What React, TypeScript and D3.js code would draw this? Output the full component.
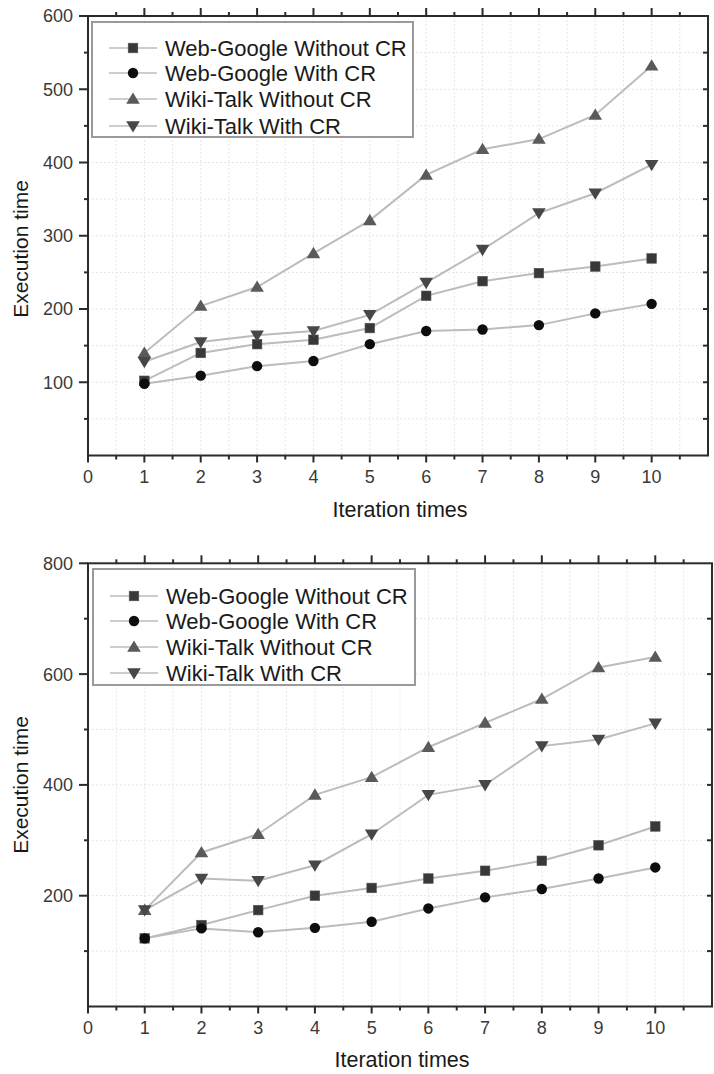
import React from "react";
import * as d3 from "d3";

const iterations = [1, 2, 3, 4, 5, 6, 7, 8, 9, 10];
const seriesNames = ["Web-Google Without CR", "Web-Google With CR", "Wiki-Talk Without CR", "Wiki-Talk With CR"];

// Top chart values
const topWebWithout = [102, 140, 152, 158, 174, 218, 238, 249, 258, 269];
const topWebWith = [98, 109, 122, 129, 152, 170, 172, 178, 194, 207];
const topWikiWithout = [140, 204, 230, 276, 321, 383, 418, 432, 465, 532];
const topWikiWith = [128, 155, 164, 170, 192, 236, 281, 331, 358, 397];

// Bottom chart values
const botWebWithout = [123, 147, 174, 200, 214, 231, 245, 263, 291, 325];
const botWebWith = [123, 141, 134, 142, 153, 177, 197, 212, 231, 251];
const botWikiWithout = [174, 278, 311, 382, 414, 468, 512, 555, 612, 631];
const botWikiWith = [174, 231, 227, 255, 311, 382, 400, 470, 482, 511];

const xTicks = [0, 1, 2, 3, 4, 5, 6, 7, 8, 9, 10];
const topYTicks = [100, 200, 300, 400, 500, 600];
const botYTicks = [200, 400, 600, 800];

const markerTypes = ["square", "circle", "up", "down"];
const markerColors = ["#383838", "#0d0d0d", "#5a5a5a", "#474747"];
const lineColor = "#bcbcbc";
const axisColor = "#2b2b2b";
const FONT = "'Liberation Sans', Arial, Helvetica, sans-serif";

function Marker({ type, x, y, color }: { type: string; x: number; y: number; color: string }) {
  if (type === "square") {
    return <rect x={x - 4.8} y={y - 4.8} width={9.6} height={9.6} fill={color} stroke="#555" strokeWidth={0.6} />;
  }
  if (type === "circle") {
    return <circle cx={x} cy={y} r={5.2} fill={color} />;
  }
  if (type === "up") {
    const p = `M${x},${y - 6.5} L${x + 6.8},${y + 4.8} L${x - 6.8},${y + 4.8} Z`;
    return <path d={p} fill={color} />;
  }
  const p = `M${x},${y + 6.5} L${x + 6.8},${y - 4.8} L${x - 6.8},${y - 4.8} Z`;
  return <path d={p} fill={color} />;
}

type ChartProps = {
  left: number;
  right: number;
  top: number;
  bottom: number;
  yMax: number;
  yTicks: number[];
  yMinorStep: number;
  series: number[][];
  legendBox: { x: number; y: number; w: number; h: number };
  legendRowY: number[];
  xLabelY: number;
  xTitleY: number;
  yTitleY: number;
};

function Chart(p: ChartProps) {
  const x = d3.scaleLinear().domain([0, 11]).range([p.left, p.right]);
  const y = d3.scaleLinear().domain([0, p.yMax]).range([p.bottom, p.top]);
  const xMinor = d3.range(0.5, 11, 0.5);
  const yMinor = d3.range(p.yMinorStep, p.yMax, p.yMinorStep);
  const line = d3
    .line<number>()
    .x((_, i) => x(iterations[i]))
    .y((d) => y(d));

  return (
    <g>
      {/* grid */}
      {xMinor.map((v) => (
        <line key={"gx" + v} x1={x(v)} x2={x(v)} y1={p.top} y2={p.bottom} stroke="#e6e6e6" strokeWidth={1} strokeDasharray="2,2" />
      ))}
      {yMinor.map((v) => (
        <line key={"gy" + v} x1={p.left} x2={p.right} y1={y(v)} y2={y(v)} stroke="#e6e6e6" strokeWidth={1} strokeDasharray="2,2" />
      ))}

      {/* series lines */}
      {p.series.map((s, i) => (
        <path key={"l" + i} d={line(s) || ""} fill="none" stroke={lineColor} strokeWidth={2} />
      ))}
      {p.series.map((s, i) =>
        s.map((v, j) => <Marker key={"m" + i + "-" + j} type={markerTypes[i]} x={x(iterations[j])} y={y(v)} color={markerColors[i]} />)
      )}

      {/* frame */}
      <rect x={p.left} y={p.top} width={p.right - p.left} height={p.bottom - p.top} fill="none" stroke={axisColor} strokeWidth={2} />

      {/* bottom axis ticks */}
      {xMinor.map((v) => {
        const major = Number.isInteger(v);
        return <line key={"bt" + v} x1={x(v)} x2={x(v)} y1={p.bottom} y2={p.bottom + (major ? 7 : 4)} stroke={axisColor} strokeWidth={2} />;
      })}
      <line x1={x(0)} x2={x(0)} y1={p.bottom} y2={p.bottom + 7} stroke={axisColor} strokeWidth={2} />
      {/* top axis ticks */}
      {xMinor.map((v) => {
        const major = Number.isInteger(v);
        return <line key={"tt" + v} x1={x(v)} x2={x(v)} y1={p.top} y2={p.top - (major ? 8 : 4)} stroke={axisColor} strokeWidth={2} />;
      })}
      {/* left axis ticks */}
      {yMinor.concat([p.yMax]).map((v) => {
        const major = p.yTicks.includes(v);
        return <line key={"lt" + v} x1={p.left} x2={p.left - (major ? 9 : 4)} y1={y(v)} y2={y(v)} stroke={axisColor} strokeWidth={2} />;
      })}
      {/* right axis ticks (inward) */}
      {yMinor.map((v) => (
        <line key={"rt" + v} x1={p.right} x2={p.right - 5} y1={y(v)} y2={y(v)} stroke={axisColor} strokeWidth={2} />
      ))}

      {/* tick labels */}
      {xTicks.map((v) => (
        <text key={"xl" + v} x={x(v)} y={p.xLabelY} textAnchor="middle" fontFamily={FONT} fontSize={18} fill="#3a3a3a">
          {v}
        </text>
      ))}
      {p.yTicks.map((v) => (
        <text key={"yl" + v} x={p.left - 15} y={y(v)} dy="0.36em" textAnchor="end" fontFamily={FONT} fontSize={18} fill="#3a3a3a">
          {v}
        </text>
      ))}

      {/* axis titles */}
      <text x={(p.left + p.right) / 2 + 2} y={p.xTitleY} textAnchor="middle" fontFamily={FONT} fontSize={21.5} fill="#1a1a1a">
        Iteration times
      </text>
      <text transform={`translate(28,${p.yTitleY}) rotate(-90)`} textAnchor="middle" fontFamily={FONT} fontSize={21} fill="#1a1a1a">
        Execution time
      </text>

      {/* legend */}
      <rect x={p.legendBox.x} y={p.legendBox.y} width={p.legendBox.w} height={p.legendBox.h} fill="#ffffff" stroke="#9a9a9a" strokeWidth={2} />
      {seriesNames.map((name, i) => (
        <g key={"lg" + i}>
          <line x1={p.legendBox.x + 17} x2={p.legendBox.x + 65} y1={p.legendRowY[i]} y2={p.legendRowY[i]} stroke={lineColor} strokeWidth={1.6} />
          <Marker type={markerTypes[i]} x={p.legendBox.x + 41} y={p.legendRowY[i]} color={markerColors[i]} />
          <text x={p.legendBox.x + 73} y={p.legendRowY[i]} dy="0.36em" fontFamily={FONT} fontSize={22} fill="#1a1a1a">
            {name}
          </text>
        </g>
      ))}
    </g>
  );
}

export default function App() {
  return (
    <svg width={714} height={1074} style={{ position: "absolute", left: 0, top: 0, background: "#fff" }}>
      <rect x={0} y={0} width={714} height={1074} fill="#ffffff" />
      <Chart
        left={88}
        right={708}
        top={16}
        bottom={455.5}
        yMax={600}
        yTicks={topYTicks}
        yMinorStep={50}
        series={[topWebWithout, topWebWith, topWikiWithout, topWikiWith]}
        legendBox={{ x: 92, y: 22, w: 321, h: 115 }}
        legendRowY={[48, 73, 99, 126]}
        xLabelY={483}
        xTitleY={517}
        yTitleY={249}
      />
      <Chart
        left={88}
        right={712}
        top={563.3}
        bottom={1006.5}
        yMax={800}
        yTicks={botYTicks}
        yMinorStep={100}
        series={[botWebWithout, botWebWith, botWikiWithout, botWikiWith]}
        legendBox={{ x: 93, y: 569, w: 322, h: 116 }}
        legendRowY={[596, 621, 647, 673]}
        xLabelY={1034}
        xTitleY={1067}
        yTitleY={785}
      />
    </svg>
  );
}
